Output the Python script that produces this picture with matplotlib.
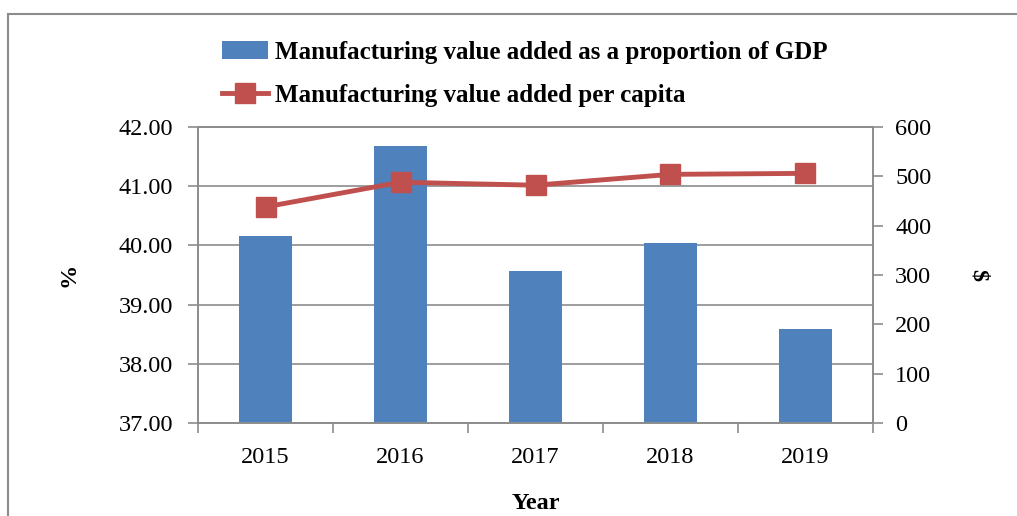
import matplotlib.pyplot as plt
from matplotlib.lines import Line2D
from matplotlib.patches import Patch

plt.rcParams['font.family'] = ['Liberation Serif', 'DejaVu Serif']

# data
years = ['2015', '2016', '2017', '2018', '2019']
share_gdp = [40.16, 41.68, 39.57, 40.04, 38.59]      # % (left axis)
per_capita = [438, 488, 482, 504, 506]               # $ (right axis)

bar_color = '#4F81BD'
line_color = '#C0504D'
grey = '#8C8C8C'

fig = plt.figure(figsize=(10.17, 5.16), dpi=100)
ax = fig.add_axes([0.1947, 0.1802, 0.8584 - 0.1947, 0.7539 - 0.1802])
ax2 = ax.twinx()

x = list(range(len(years)))
ax.bar(x, share_gdp, width=0.39, color=bar_color, zorder=2)
ax2.plot(x, per_capita, color=line_color, lw=3.5, marker='s', markersize=14.5,
         markeredgecolor=line_color, zorder=3)

ax.set_ylim(37, 42)
ax.set_yticks([37, 38, 39, 40, 41, 42])
ax.set_yticklabels([f'{v:.2f}' for v in [37, 38, 39, 40, 41, 42]])
ax2.set_ylim(0, 600)
ax2.set_yticks(range(0, 601, 100))

ax.set_xlim(-0.5, len(years) - 0.5)
ax.set_xticks(x)
ax.set_xticklabels(years)
ax.set_xticks([i - 0.5 for i in range(len(years) + 1)], minor=True)

ax.grid(axis='y', color=grey, lw=1.2, zorder=0)
ax.set_axisbelow(True)

for a in (ax, ax2):
    for s in a.spines.values():
        s.set_color(grey)
        s.set_linewidth(1.2)

ax.tick_params(axis='x', which='major', length=0, pad=17, labelsize=17.5)
ax.tick_params(axis='x', which='minor', length=7, color=grey, width=1.2)
ax.tick_params(axis='y', length=7, color=grey, width=1.2, pad=11, labelsize=17.5)
ax2.tick_params(axis='y', length=7, color=grey, width=1.2, pad=9, labelsize=17.5)

ax.set_xlabel('Year', fontsize=17.5, fontweight='bold', labelpad=18)
ax.set_ylabel('%', fontsize=17.5, fontweight='bold', labelpad=28)
ax2.set_ylabel('$', fontsize=17.5, fontweight='bold', rotation=270, labelpad=41)

handles = [Patch(facecolor=bar_color),
           Line2D([0], [0], color=line_color, lw=3.5, marker='s', markersize=14.5)]
labels = ['Manufacturing value added as a proportion of GDP',
          'Manufacturing value added per capita']
leg = fig.legend(handles, labels, loc='upper left', bbox_to_anchor=(0.208, 0.94),
                 frameon=False, prop={'size': 18, 'weight': 'bold'},
                 handlelength=1.85, handletextpad=0.3, labelspacing=0.8,
                 borderaxespad=0)

# outer frame of the chart (left and top edges visible)
fig.add_artist(Line2D([8 / 1017, 8 / 1017], [0, 1 - 14 / 516], color=grey, lw=1.5))
fig.add_artist(Line2D([8 / 1017, 1], [1 - 14 / 516, 1 - 14 / 516], color=grey, lw=1.5))

fig.savefig('out.png', dpi=100)
